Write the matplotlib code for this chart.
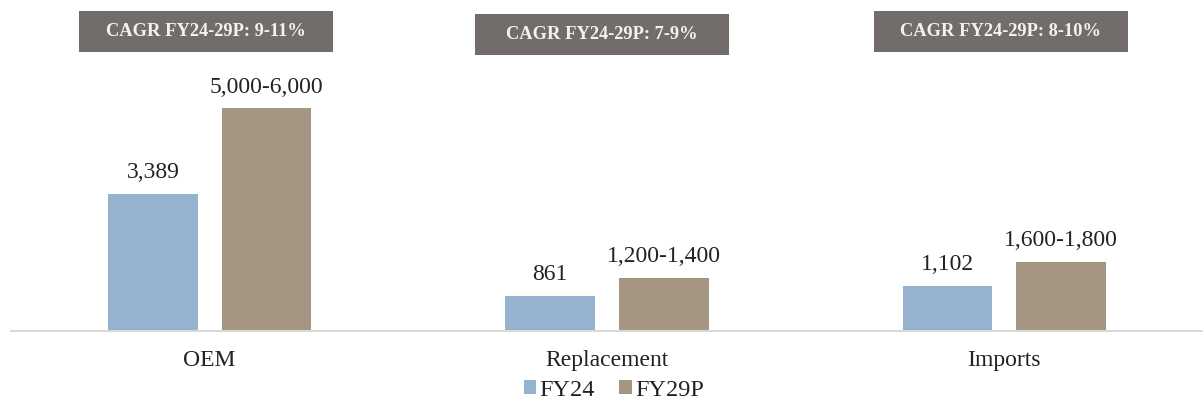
import numpy as np
import matplotlib
matplotlib.use("Agg")
import matplotlib.pyplot as plt
from matplotlib.patches import Rectangle

categories = ["OEM", "Replacement", "Imports"]
fy24 = [3389, 861, 1102]
fy29p = [5500, 1300, 1700]
fy24_labels = ["3,389", "861", "1,102"]
fy29p_labels = ["5,000-6,000", "1,200-1,400", "1,600-1,800"]
cagr_labels = ["CAGR FY24-29P: 9-11%", "CAGR FY24-29P: 7-9%", "CAGR FY24-29P: 8-10%"]

plt.rcParams["font.family"] = ["Liberation Serif", "DejaVu Serif"]

W, H = 1203, 401
fig = plt.figure(figsize=(W / 100, H / 100), dpi=100)
ax = fig.add_axes([11 / W, (H - 330.5) / H, (W - 11) / W, 330.5 / H])

x = np.arange(len(categories))
bw = 0.225
off = 0.143
c24 = "#95b3cf"
c29 = "#a59583"
ax.bar(x - off, fy24, bw, color=c24, label="FY24")
ax.bar(x + off, fy29p, bw, color=c29, label="FY29P")

for i in range(len(categories)):
    ax.text(x[i] - off, fy24[i] + 260, fy24_labels[i], ha="center", va="bottom",
            fontsize=17, color="#222222")
    ax.text(x[i] + off, fy29p[i] + 260, fy29p_labels[i], ha="center", va="bottom",
            fontsize=17, color="#222222")

ax.set_xlim(-0.5, 2.5)
ax.set_ylim(0, 8180)
ax.set_yticks([])
ax.set_xticks(x)
ax.set_xticklabels(categories, fontsize=17, color="#222222")
ax.tick_params(axis="x", length=0, pad=14)
for s in ["top", "right", "left"]:
    ax.spines[s].set_visible(False)
ax.spines["bottom"].set_color("#d9d9d9")
ax.spines["bottom"].set_linewidth(1.5)
ax.patch.set_alpha(0)

# CAGR boxes (pixel positions)
boxes = [(79, 11), (475, 14), (874, 11)]
bwid, bht = 254, 41
for (bx, by), lab in zip(boxes, cagr_labels):
    fig.patches.append(Rectangle((bx / W, 1 - (by + bht) / H), bwid / W, bht / H,
                                 transform=fig.transFigure, facecolor="#726d6b",
                                 edgecolor="none"))
    fig.text((bx + bwid / 2) / W, 1 - (by + bht / 2) / H, lab, ha="center",
             va="center", fontsize=13.3, fontweight="bold", color="#f2f2f2")

leg = fig.legend(loc="center", bbox_to_anchor=(614 / W, 1 - 390 / H), ncol=2,
                 frameon=False, fontsize=17.5, handlelength=0.5, handleheight=0.5,
                 handletextpad=0.15, columnspacing=1.0, labelcolor="#222222",
                 borderpad=0.1)

fig.savefig("out.png", dpi=100)
